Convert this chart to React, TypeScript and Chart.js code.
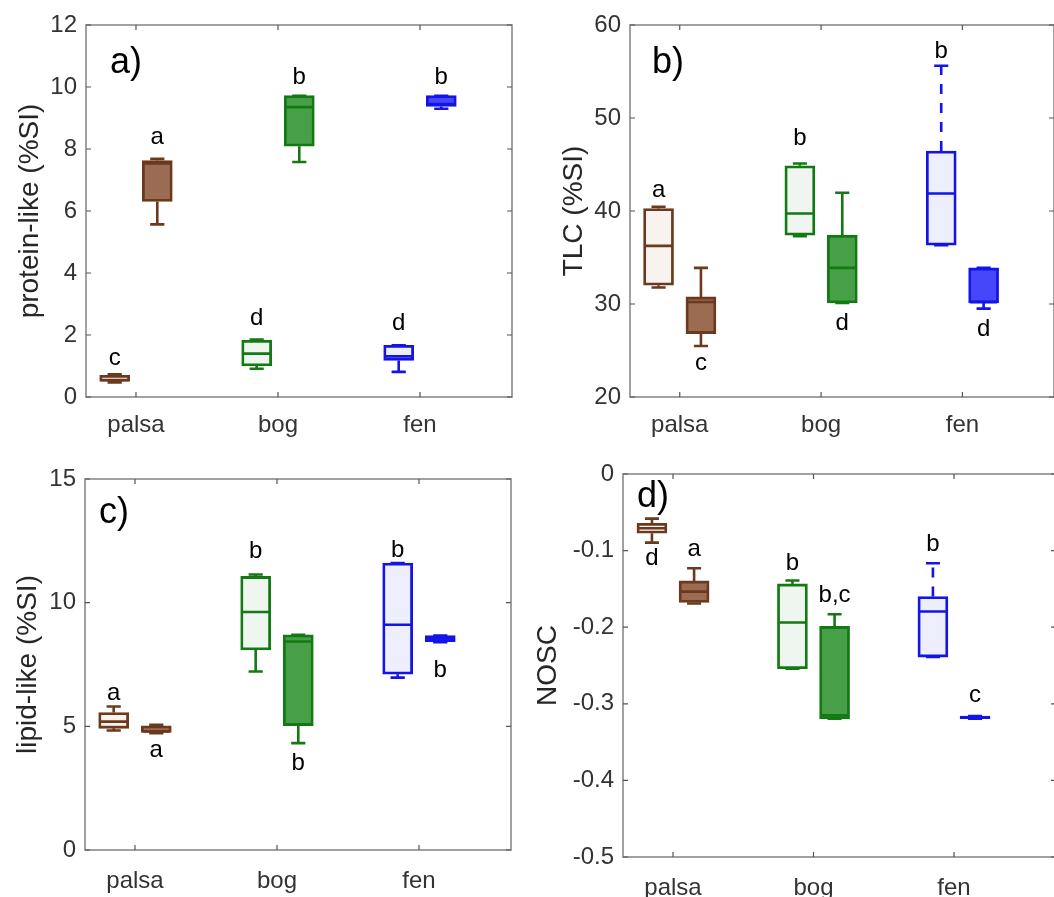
import React, { useEffect, useRef } from 'react';
import { Chart, registerables } from 'chart.js';

Chart.register(...registerables);

const FONT = '"Liberation Sans", Arial, Helvetica, sans-serif';

const categories = ['palsa', 'bog', 'fen'];

// Each row: [min, q1, median, q3, max] for palsa, bog, fen
// a) protein-like (%SI)
const proteinPale = [[0.47, 0.50, 0.55, 0.70, 0.73], [0.91, 1.00, 1.40, 1.83, 1.85], [0.81, 1.18, 1.31, 1.67, 1.67]];
const proteinSolid = [[5.57, 6.31, 7.53, 7.63, 7.68], [7.58, 8.09, 9.35, 9.72, 9.72], [9.30, 9.37, 9.45, 9.72, 9.72]];
const proteinLetters = ['c', 'a', 'd', 'b', 'd', 'b'];
const proteinLetterY = [1.02, 8.17, 2.31, 10.1, 2.15, 10.1];
const proteinTicks = [0, 2, 4, 6, 8, 10, 12];

// b) TLC (%SI)
const tlcPale = [[31.77, 32.02, 36.25, 40.27, 40.45], [37.29, 37.40, 39.73, 44.86, 45.11], [36.32, 36.32, 41.88, 46.44, 55.62]];
const tlcSolid = [[25.49, 26.82, 30.22, 30.76, 33.88], [30.10, 30.12, 33.88, 37.40, 41.96], [29.50, 30.12, 30.20, 33.88, 33.88]];
const tlcLetters = ['a', 'c', 'b', 'd', 'b', 'd'];
const tlcLetterY = [41.5, 22.87, 47.1, 27.2, 56.4, 26.6];
const tlcTicks = [20, 30, 40, 50, 60];

// c) lipid-like (%SI)
const lipidPale = [[4.83, 4.92, 5.19, 5.56, 5.80], [7.22, 8.09, 9.62, 11.06, 11.14], [6.97, 7.11, 9.11, 11.60, 11.60]];
const lipidSolid = [[4.72, 4.75, 4.79, 5.02, 5.06], [4.32, 5.03, 8.43, 8.70, 8.70], [8.40, 8.42, 8.55, 8.67, 8.67]];
const lipidLetters = ['a', 'a', 'b', 'b', 'b', 'b'];
const lipidLetterY = [6.07, 3.78, 11.8, 3.24, 11.84, 7.01];
const lipidTicks = [0, 5, 10, 15];

// d) NOSC
const noscPale = [[-0.0896, -0.0774, -0.0709, -0.0643, -0.0583], [-0.2543, -0.2543, -0.1939, -0.1435, -0.1390], [-0.2390, -0.2390, -0.1796, -0.1600, -0.1165]];
const noscSolid = [[-0.1690, -0.1678, -0.1535, -0.1396, -0.1230], [-0.3196, -0.3196, -0.3150, -0.1990, -0.1830], [-0.3195, -0.3195, -0.3178, -0.3160, -0.3160]];
const noscLetters = ['d', 'a', 'b', 'b,c', 'b', 'c'];
const noscLetterY = [-0.1187, -0.107, -0.125, -0.1665, -0.101, -0.298];
const noscTicks = [-0.5, -0.4, -0.3, -0.2, -0.1, 0];

// styles
const paleFills = ['#F8F3EF', '#EFF6EF', '#EEEFFC'];
const solidFills = ['#9B6B52', '#47A047', '#4646FA'];
const outlines = ['#6B3A1E', '#137A13', '#1414E6'];
const BOX_OFFSET = 0.15;
const MED_HALF = 0.095;
const CAP_HALF = 0.05;

type Panel = {
  key: string;
  label: string;
  title: string;
  pale: number[][];
  solid: number[][];
  letters: string[];
  letterY: number[];
  ticks: number[];
  dashedPaleUpper: boolean[];
  canvas: number[];
  plot: number[];
  xRange: number[];
  titleX: number;
  labelPos: number[];
  xPad: number;
};

const panels: Panel[] = [
  {
    key: 'a', label: 'a)', title: 'protein-like (%SI)',
    pale: proteinPale, solid: proteinSolid, letters: proteinLetters, letterY: proteinLetterY, ticks: proteinTicks,
    dashedPaleUpper: [false, false, false],
    canvas: [0, 0, 520, 450], plot: [86, 25, 512, 397], xRange: [0.648, 3.648], titleX: 30, labelPos: [24, 48], xPad: 14,
  },
  {
    key: 'b', label: 'b)', title: 'TLC (%SI)',
    pale: tlcPale, solid: tlcSolid, letters: tlcLetters, letterY: tlcLetterY, ticks: tlcTicks,
    dashedPaleUpper: [false, false, true],
    canvas: [520, 0, 534, 450], plot: [630, 25, 1054, 397], xRange: [0.648, 3.648], titleX: 54, labelPos: [22, 48], xPad: 14,
  },
  {
    key: 'c', label: 'c)', title: 'lipid-like (%SI)',
    pale: lipidPale, solid: lipidSolid, letters: lipidLetters, letterY: lipidLetterY, ticks: lipidTicks,
    dashedPaleUpper: [false, false, false],
    canvas: [0, 450, 520, 447], plot: [85, 479, 511, 850], xRange: [0.648, 3.648], titleX: 28, labelPos: [14, 44], xPad: 17,
  },
  {
    key: 'd', label: 'd)', title: 'NOSC',
    pale: noscPale, solid: noscSolid, letters: noscLetters, letterY: noscLetterY, ticks: noscTicks,
    dashedPaleUpper: [false, false, true],
    canvas: [520, 450, 540, 447], plot: [623, 474, 1056, 857], xRange: [0.644, 3.726], titleX: 28, labelPos: [14, 33], xPad: 17,
  },
];

function buildDatasets(p: Panel) {
  const boxData: any[] = [];
  const boxFill: string[] = [];
  const boxBorder: string[] = [];
  const lineSets: any[] = [];
  const series = [
    { stats: p.pale, offset: -BOX_OFFSET, fills: paleFills, pale: true },
    { stats: p.solid, offset: BOX_OFFSET, fills: solidFills, pale: false },
  ];
  series.forEach((s) => {
    s.stats.forEach((st, ci) => {
      const [mn, q1, md, q3, mx] = st;
      const c = ci + 1 + s.offset;
      boxData.push({ x: c, y: [q1, q3] });
      boxFill.push(s.fills[ci]);
      boxBorder.push(outlines[ci]);
      const dashed = s.pale && p.dashedPaleUpper[ci];
      const brk = { x: c, y: null };
      const solidPts: any[] = [
        { x: c, y: q1 }, { x: c, y: mn }, brk,
        { x: c - CAP_HALF, y: mn }, { x: c + CAP_HALF, y: mn }, brk,
        { x: c - MED_HALF, y: md }, { x: c + MED_HALF, y: md }, brk,
        { x: c - CAP_HALF, y: mx }, { x: c + CAP_HALF, y: mx },
      ];
      if (!dashed) {
        solidPts.push(brk, { x: c, y: q3 }, { x: c, y: mx });
      }
      lineSets.push({
        type: 'line', data: solidPts, borderColor: outlines[ci], borderWidth: 2.6,
        pointRadius: 0, spanGaps: false, fill: false, order: 1, tension: 0,
      });
      if (dashed) {
        lineSets.push({
          type: 'line', data: [{ x: c, y: q3 }, { x: c, y: mx }], borderColor: outlines[ci], borderWidth: 2.6,
          borderDash: [10, 9], pointRadius: 0, fill: false, order: 1, tension: 0,
        });
      }
    });
  });
  return [
    {
      type: 'bar', data: boxData, backgroundColor: boxFill, borderColor: boxBorder,
      borderWidth: 2.8, borderSkipped: false, barThickness: 30, order: 2,
    },
    ...lineSets,
  ];
}

function PanelChart({ p }: { p: Panel }) {
  const ref = useRef<HTMLCanvasElement>(null);
  useEffect(() => {
    if (!ref.current) return;
    const [cx, cy, cw, ch] = p.canvas;
    const [pl, pt, pr, pb] = p.plot;
    const framePlugin = {
      id: 'frame' + p.key,
      afterDatasetsDraw(chart: any) {
        const { ctx, chartArea, scales } = chart;
        const { left, right, top, bottom } = chartArea;
        const x = scales.x;
        const y = scales.y;
        ctx.save();
        // letters
        ctx.fillStyle = '#000';
        ctx.font = `24px ${FONT}`;
        ctx.textAlign = 'center';
        ctx.textBaseline = 'alphabetic';
        p.letters.forEach((t, i) => {
          const ci = Math.floor(i / 2);
          const off = i % 2 === 0 ? -BOX_OFFSET : BOX_OFFSET;
          ctx.fillText(t, x.getPixelForValue(ci + 1 + off), y.getPixelForValue(p.letterY[i]));
        });
        // panel label
        ctx.font = `36px ${FONT}`;
        ctx.textAlign = 'left';
        ctx.fillText(p.label, left + p.labelPos[0], top + p.labelPos[1]);
        // frame
        ctx.strokeStyle = '#8a8a8a';
        ctx.lineWidth = 1.6;
        ctx.strokeRect(left, top, right - left, bottom - top);
        ctx.strokeStyle = '#555';
        ctx.lineWidth = 1.2;
        const tl = 5;
        ctx.beginPath();
        x.ticks.forEach((t: any) => {
          const px = x.getPixelForValue(t.value);
          ctx.moveTo(px, bottom); ctx.lineTo(px, bottom - tl);
          ctx.moveTo(px, top); ctx.lineTo(px, top + tl);
        });
        y.ticks.forEach((t: any) => {
          const py = y.getPixelForValue(t.value);
          ctx.moveTo(left, py); ctx.lineTo(left + tl, py);
          ctx.moveTo(right, py); ctx.lineTo(right - tl, py);
        });
        ctx.stroke();
        ctx.restore();
      },
    };
    const chart = new Chart(ref.current, {
      type: 'bar',
      data: { datasets: buildDatasets(p) as any },
      options: {
        responsive: false,
        maintainAspectRatio: false,
        animation: false,
        devicePixelRatio: 1,
        layout: { padding: { left: 0, top: pt - cy, right: cx + cw - pr, bottom: 0 } },
        plugins: { legend: { display: false }, tooltip: { enabled: false } },
        scales: {
          x: {
            type: 'linear',
            min: p.xRange[0],
            max: p.xRange[1],
            offset: false,
            grid: { display: false, drawTicks: false },
            border: { display: false },
            afterBuildTicks: (s: any) => { s.ticks = categories.map((_, i) => ({ value: i + 1 })); },
            afterFit: (s: any) => { s.height = cy + ch - pb; },
            ticks: {
              callback: (v: any) => categories[Math.round(Number(v)) - 1] ?? '',
              font: { family: FONT, size: 24 },
              color: '#333',
              padding: p.xPad,
              autoSkip: false,
              maxRotation: 0,
            },
          },
          y: {
            type: 'linear',
            min: p.ticks[0],
            max: p.ticks[p.ticks.length - 1],
            grid: { display: false, drawTicks: false },
            border: { display: false },
            afterBuildTicks: (s: any) => { s.ticks = p.ticks.map((v) => ({ value: v })); },
            afterFit: (s: any) => { s.width = pl - cx; },
            ticks: {
              callback: (v: any) => String(v),
              font: { family: FONT, size: 24 },
              color: '#333',
              padding: 9,
              autoSkip: false,
            },
            title: {
              display: true,
              text: p.title,
              color: '#262626',
              font: { family: FONT, size: 28, lineHeight: 1 },
              padding: { top: p.titleX - 14, bottom: 0 },
            },
          },
        },
      } as any,
      plugins: [framePlugin],
    });
    return () => chart.destroy();
  }, [p]);
  const [cx, cy, cw, ch] = p.canvas;
  return (
    <canvas
      ref={ref}
      width={cw}
      height={ch}
      style={{ position: 'absolute', left: cx, top: cy, width: cw, height: ch }}
    />
  );
}

export default function App() {
  useEffect(() => {
    document.body.style.margin = '0';
  }, []);
  return (
    <div style={{ position: 'relative', width: 1054, height: 897, overflow: 'hidden', background: '#fff' }}>
      {panels.map((p) => (
        <PanelChart key={p.key} p={p} />
      ))}
    </div>
  );
}
